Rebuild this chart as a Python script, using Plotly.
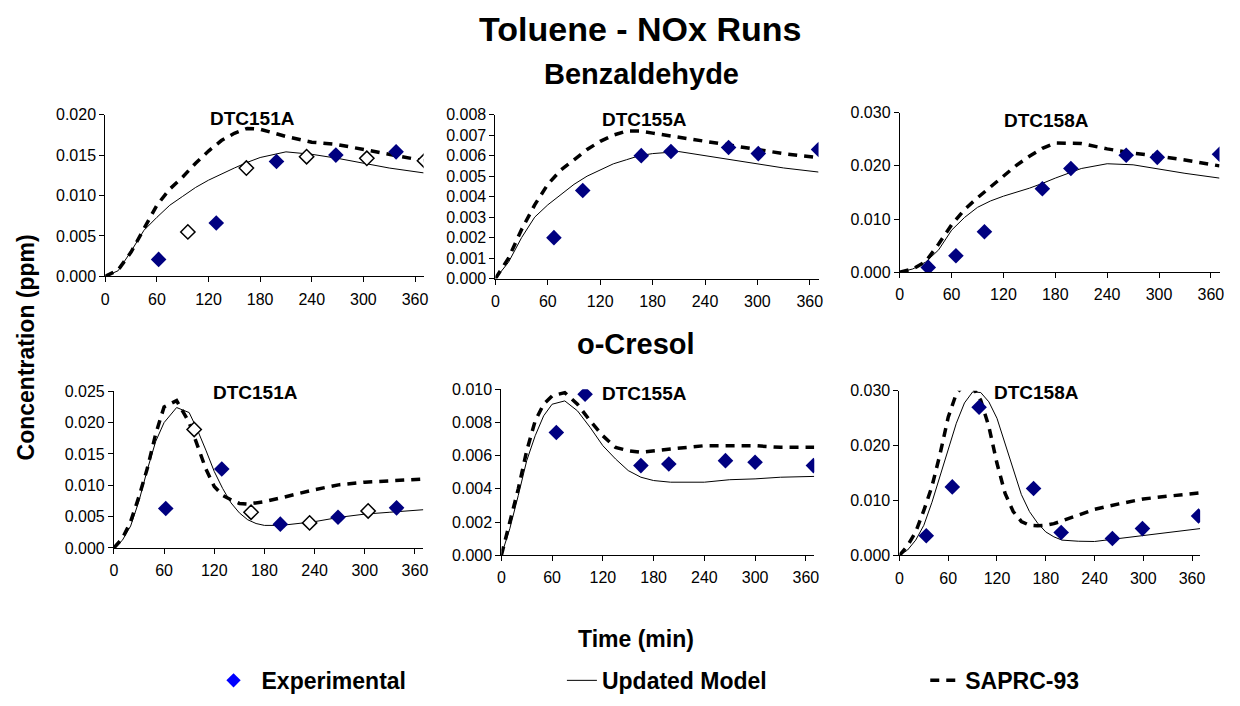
import plotly.graph_objects as go

W, H = 1240, 706
FONT = "Liberation Sans, Arial, sans-serif"

# ---------------- data ----------------
x_ticks = [0, 60, 120, 180, 240, 300, 360]

# Benzaldehyde DTC151A
benz151_t = [0, 15, 30, 45, 60, 75, 90, 105, 120, 135, 150, 165, 180, 210, 240, 270, 300, 330, 370]
benz151_model = [0, 0.0007, 0.0031, 0.0057, 0.0073, 0.0088, 0.0099, 0.0110, 0.0119, 0.0127, 0.0134,
                 0.0141, 0.0147, 0.0154, 0.0151, 0.0146, 0.0140, 0.0134, 0.0128]
benz151_saprc = [0, 0.0008, 0.0030, 0.0060, 0.0088, 0.0108, 0.0123, 0.0140, 0.0155, 0.0168, 0.0177,
                 0.0183, 0.0182, 0.0173, 0.0166, 0.0163, 0.0157, 0.0152, 0.0143]
benz151_exp_t = [62, 129, 199, 268, 338]
benz151_exp = [0.0021, 0.0066, 0.0142, 0.0150, 0.0154]
benz151_open_t = [96, 164, 234, 304, 371]
benz151_open = [0.0055, 0.0134, 0.0148, 0.0146, 0.0143]

# Benzaldehyde DTC155A
benz155_t = [0, 15, 30, 45, 60, 75, 90, 105, 120, 135, 150, 165, 180, 210, 240, 270, 300, 330, 370]
benz155_model = [0, 0.0008, 0.0020, 0.0030, 0.0036, 0.0041, 0.0046, 0.0050, 0.0053, 0.0056, 0.0058,
                 0.0060, 0.0061, 0.0062, 0.0060, 0.0058, 0.0056, 0.0054, 0.0052]
benz155_saprc = [0, 0.0010, 0.0024, 0.0036, 0.0046, 0.0053, 0.0058, 0.0063, 0.0067, 0.0070, 0.0072,
                 0.0072, 0.0071, 0.0069, 0.0067, 0.0065, 0.0063, 0.0061, 0.0059]
benz155_exp_t = [67, 100, 167, 201, 267, 301, 370]
benz155_exp = [0.0020, 0.0043, 0.0060, 0.0062, 0.0064, 0.0061, 0.0063]

# Benzaldehyde DTC158A
benz158_t = [0, 15, 30, 45, 60, 75, 90, 105, 120, 135, 150, 165, 180, 210, 240, 270, 300, 330, 370]
benz158_model = [0, 0.0006, 0.0019, 0.0042, 0.0079, 0.0103, 0.0122, 0.0134, 0.0143, 0.0150, 0.0158,
                 0.0167, 0.0177, 0.0195, 0.0204, 0.0202, 0.0194, 0.0186, 0.0177]
benz158_saprc = [0, 0.0006, 0.0020, 0.0053, 0.0089, 0.0118, 0.0140, 0.0160, 0.0179, 0.0201, 0.0218,
                 0.0233, 0.0243, 0.0242, 0.0232, 0.0224, 0.0218, 0.0211, 0.0200]
benz158_exp_t = [33, 65, 98, 165, 198, 262, 298, 370]
benz158_exp = [0.0009, 0.0031, 0.0076, 0.0157, 0.0195, 0.0220, 0.0216, 0.0222]

# o-Cresol DTC151A
cres151_t = [0, 10, 20, 30, 40, 50, 60, 75, 90, 100, 110, 120, 130, 140, 150, 160, 170, 180, 200,
             240, 270, 300, 330, 370]
cres151_model = [0, 0.0012, 0.0035, 0.0075, 0.0125, 0.0170, 0.0200, 0.0224, 0.0216, 0.0188, 0.0156,
                 0.0122, 0.0095, 0.0072, 0.0056, 0.0045, 0.0039, 0.0036, 0.0036, 0.0042, 0.0049,
                 0.0054, 0.0057, 0.0061]
cres151_saprc = [0, 0.0015, 0.0042, 0.0082, 0.0127, 0.0182, 0.0225, 0.0235, 0.0200, 0.0162, 0.0126,
                 0.0098, 0.0084, 0.0077, 0.0071, 0.0070, 0.0072, 0.0074, 0.0080, 0.0093, 0.0101,
                 0.0105, 0.0107, 0.0110]
cres151_exp_t = [62, 129, 199, 268, 338]
cres151_exp = [0.0063, 0.0126, 0.0038, 0.0049, 0.0064]
cres151_open_t = [96, 164, 234, 304]
cres151_open = [0.0189, 0.0057, 0.0040, 0.0059]

# o-Cresol DTC155A
cres155_t = [0, 10, 20, 30, 40, 50, 60, 75, 90, 105, 120, 135, 150, 165, 180, 200, 240, 270, 300,
             330, 370]
cres155_model = [0, 0.0016, 0.0036, 0.0057, 0.0072, 0.0084, 0.0091, 0.0093, 0.0087, 0.0077, 0.0066,
                 0.0058, 0.0051, 0.0047, 0.0045, 0.0044, 0.0044, 0.00455, 0.0046, 0.0047, 0.00475]
cres155_saprc = [0, 0.0020, 0.0040, 0.0063, 0.0081, 0.0091, 0.0096, 0.0098, 0.0091, 0.0081, 0.0072,
                 0.0065, 0.0063, 0.0062, 0.0063, 0.0064, 0.0066, 0.0066, 0.0066, 0.0065, 0.0065]
cres155_exp_t = [65, 99, 165, 198, 265, 300, 369]
cres155_exp = [0.0074, 0.0097, 0.0054, 0.0055, 0.0057, 0.0056, 0.0054]

# o-Cresol DTC158A
cres158_t = [0, 10, 20, 30, 40, 50, 60, 70, 80, 90, 100, 110, 120, 130, 140, 150, 160, 170, 180,
             190, 200, 220, 240, 270, 300, 330, 370]
cres158_model = [0, 0.0010, 0.0028, 0.0055, 0.0097, 0.0144, 0.0195, 0.0241, 0.0278, 0.0298, 0.0297,
                 0.0280, 0.0250, 0.0203, 0.0155, 0.0111, 0.0080, 0.0059, 0.0043, 0.0034, 0.0028,
                 0.0026, 0.00255, 0.0031, 0.0037, 0.0043, 0.0049]
cres158_saprc = [0, 0.0018, 0.0043, 0.0082, 0.0126, 0.0185, 0.0252, 0.0295, 0.0312, 0.0308, 0.0283,
                 0.0235, 0.0168, 0.0113, 0.0080, 0.0062, 0.0055, 0.0054, 0.0055, 0.0058, 0.0063,
                 0.0073, 0.0084, 0.0094, 0.0103, 0.0108, 0.0114]
cres158_exp_t = [33, 65, 98, 165, 199, 262, 299, 368]
cres158_exp = [0.0036, 0.0125, 0.0270, 0.0122, 0.0042, 0.0031, 0.0049, 0.0072]

run_names = ["DTC151A", "DTC155A", "DTC158A", "DTC151A", "DTC155A", "DTC158A"]
y_maxes = [0.020, 0.008, 0.030, 0.025, 0.010, 0.030]
y_dticks = [0.005, 0.001, 0.010, 0.005, 0.002, 0.010]
legend_labels = ["Experimental", "Updated Model", "SAPRC-93"]

# ---------------- layout (pixel geometry) ----------------
# (left px, right px, bottom px, top px, title center x, title center y)
panel_px = [
    (102, 422.7, 275, 109.3, 250, 113.5),
    (495, 820.5, 277.3, 109.3, 645, 114),
    (902.3, 1224.4, 270.7, 107.3, 1050, 115),
    (110.7, 422.4, 553.3, 392.7, 253, 394),
    (501, 816.2, 560.7, 390.7, 645, 395),
    (902, 1204.9, 561, 392.3, 1040, 394),
]

panels = [
    (benz151_t, benz151_model, benz151_saprc, benz151_exp_t, benz151_exp, benz151_open_t, benz151_open),
    (benz155_t, benz155_model, benz155_saprc, benz155_exp_t, benz155_exp, None, None),
    (benz158_t, benz158_model, benz158_saprc, benz158_exp_t, benz158_exp, None, None),
    (cres151_t, cres151_model, cres151_saprc, cres151_exp_t, cres151_exp, cres151_open_t, cres151_open),
    (cres155_t, cres155_model, cres155_saprc, cres155_exp_t, cres155_exp, None, None),
    (cres158_t, cres158_model, cres158_saprc, cres158_exp_t, cres158_exp, None, None),
]

NAVY = "#000080"
fig = go.Figure()
annotations = []

for i, (t, model, saprc, et, ev, ot, ov) in enumerate(panels):
    k = "" if i == 0 else str(i + 1)
    xa, ya = "x" + k, "y" + k
    fig.add_trace(go.Scatter(x=t, y=model, xaxis=xa, yaxis=ya, mode="lines",
                             line=dict(color="black", width=1), showlegend=False, hoverinfo="skip"))
    fig.add_trace(go.Scatter(x=t, y=saprc, xaxis=xa, yaxis=ya, mode="lines",
                             line=dict(color="black", width=3.5, dash="9px,7px"),
                             showlegend=False, hoverinfo="skip"))
    if ot is not None:
        fig.add_trace(go.Scatter(x=ot, y=ov, xaxis=xa, yaxis=ya, mode="markers",
                                 marker=dict(symbol="diamond", size=11, color="white",
                                             line=dict(color="black", width=1.5)),
                                 showlegend=False))
    fig.add_trace(go.Scatter(x=et, y=ev, xaxis=xa, yaxis=ya, mode="markers",
                             marker=dict(symbol="diamond", size=12, color=NAVY,
                                         line=dict(color=NAVY, width=0)),
                             showlegend=False))

    L, R, B, T, tx, ty = panel_px[i]
    axis_common = dict(showline=True, linecolor="black", linewidth=1, showgrid=False,
                       zeroline=False, ticks="outside", tickcolor="black", ticklen=5,
                       tickfont=dict(family=FONT, size=16, color="black"))
    fig.update_layout(**{
        "xaxis" + k: dict(domain=[L / W, R / W], range=[0, 370], tickvals=x_ticks,
                          anchor=ya, ticklabelstandoff=3, **axis_common),
        "yaxis" + k: dict(domain=[1 - B / H, 1 - T / H], range=[0, y_maxes[i]],
                          dtick=y_dticks[i], tick0=0, tickformat=".3f", anchor=xa,
                          **axis_common),
    })
    annotations.append(dict(text="<b>%s</b>" % run_names[i], x=tx / W, y=1 - ty / H,
                            xref="paper", yref="paper", showarrow=False,
                            xanchor="center", yanchor="middle",
                            font=dict(family=FONT, size=19, color="black")))

# legend-only entries (three separate legends)
fig.add_trace(go.Scatter(x=[None], y=[None], mode="markers", name=legend_labels[0],
                         marker=dict(symbol="diamond", size=11, color="#0000FF"), legend="legend"))
fig.add_trace(go.Scatter(x=[None], y=[None], mode="lines", name=legend_labels[1],
                         line=dict(color="black", width=1), legend="legend2"))
fig.add_trace(go.Scatter(x=[None], y=[None], mode="lines", name=legend_labels[2],
                         line=dict(color="black", width=3.5, dash="9px,7px"), legend="legend3"))

leg_font = dict(family=FONT, size=23, color="black", weight="bold")
def leg(xpx, iw=30):
    return dict(x=xpx / W, y=1 - 689 / H, xanchor="left", yanchor="middle",
                font=leg_font, bgcolor="rgba(0,0,0,0)", borderwidth=0, itemwidth=iw)

texts = [
    ("<b>Toluene - NOx Runs</b>", 641, 22, 34, 0),
    ("<b>Benzaldehyde</b>", 642, 68, 29, 0),
    ("<b>o-Cresol</b>", 637, 344, 29, 0),
    ("<b>Time (min)</b>", 637, 647, 23, 0),
    ("<b>Concentration (ppm)</b>", 22, 348, 23, -90),
]
for txt, x, y, s, ang in texts:
    annotations.append(dict(text=txt, x=x / W, y=1 - y / H, xref="paper", yref="paper",
                            showarrow=False, xanchor="center", yanchor="middle", textangle=ang,
                            font=dict(family=FONT, size=s, color="black")))

fig.update_layout(
    width=W, height=H,
    margin=dict(l=0, r=0, t=0, b=0),
    paper_bgcolor="white", plot_bgcolor="white",
    annotations=annotations,
    legend=leg(203, 46), legend2=leg(562), legend3=leg(928),
    font=dict(family=FONT, color="black"),
)

fig.write_html("out.html")
